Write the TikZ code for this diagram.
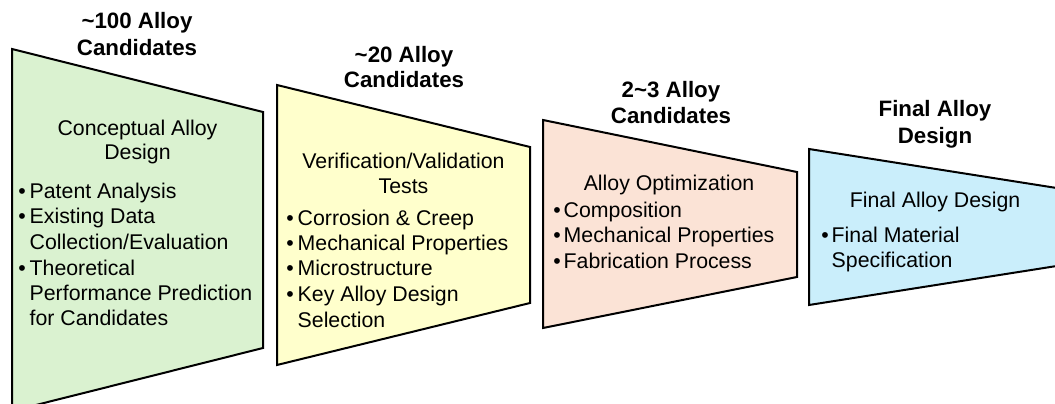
\documentclass[tikz,border=0pt]{standalone}
\usepackage{fontspec}
\setmainfont{Liberation Sans}
\definecolor{fillA}{HTML}{DAF2D0}
\definecolor{fillB}{HTML}{FFFFCC}
\definecolor{fillC}{HTML}{FBE3D6}
\definecolor{fillD}{HTML}{CAEEFB}
\begin{document}
\begin{tikzpicture}[x=1pt,y=-1pt,
  stage/.style={draw=black,line width=2pt,line join=miter},
  ttl/.style={font=\fontsize{22.3}{27}\selectfont\bfseries,anchor=base,inner sep=0},
  hd/.style={font=\fontsize{21.3}{25}\selectfont,anchor=base,inner sep=0},
  itm/.style={font=\fontsize{21.3}{25}\selectfont,anchor=base west,inner sep=0},
  bul/.style={font=\fontsize{21.3}{25}\selectfont,anchor=base,inner sep=0}]
\useasboundingbox (0,0) rectangle (1055,404);
\begin{scope}
\clip (0,0) rectangle (1055,404);
% stage shapes
\draw[stage,fill=fillA] (12,49) coordinate (s1tl) -- (263,112) coordinate (s1tr) -- (263,348) coordinate (s1br) -- (12,411) coordinate (s1bl) -- cycle;
\draw[stage,fill=fillB] (277,85) coordinate (s2tl) -- (530,147) coordinate (s2tr) -- (530,303) coordinate (s2br) -- (277,365) coordinate (s2bl) -- cycle;
\draw[stage,fill=fillC] (543,120) coordinate (s3tl) -- (797,172) coordinate (s3tr) -- (797,277) coordinate (s3br) -- (543,328) coordinate (s3bl) -- cycle;
\draw[stage,fill=fillD] (809,149) coordinate (s4tl) -- (1063,189) coordinate (s4tr) -- (1063,265) coordinate (s4br) -- (809,305) coordinate (s4bl) -- cycle;
\end{scope}
% stage 1
\node[ttl] (t1a) at (137,29) {\textasciitilde 100 Alloy};
\node[ttl] (t1b) at (137,56) {Candidates};
\node[hd] (h1a) at (137.5,135) {Conceptual Alloy};
\node[hd] (h1b) at (137.5,159) {Design};
\node[bul] (b1a) at (22,198) {\textbullet};
\node[itm] (i1a) at (29.5,198) {Patent Analysis};
\node[bul] (b1b) at (22,223) {\textbullet};
\node[itm] (i1b) at (29.5,223) {Existing Data};
\node[itm] (i1c) at (29.5,249) {Collection/Evaluation};
\node[bul] (b1d) at (22,275) {\textbullet};
\node[itm] (i1d) at (29.5,275) {Theoretical};
\node[itm] (i1e) at (29.5,300) {Performance Prediction};
\node[itm] (i1f) at (29.5,325) {for Candidates};
% stage 2
\node[ttl] (t2a) at (404,63) {\textasciitilde 20 Alloy};
\node[ttl] (t2b) at (404,88) {Candidates};
\node[hd] (h2a) at (403.5,168) {Verification/Validation};
\node[hd] (h2b) at (403.5,193) {Tests};
\node[bul] (b2a) at (290,225) {\textbullet};
\node[itm] (i2a) at (297.5,225) {Corrosion \& Creep};
\node[bul] (b2b) at (290,250) {\textbullet};
\node[itm] (i2b) at (297.5,250) {Mechanical Properties};
\node[bul] (b2c) at (290,275) {\textbullet};
\node[itm] (i2c) at (297.5,275) {Microstructure};
\node[bul] (b2d) at (290,301) {\textbullet};
\node[itm] (i2d) at (297.5,301) {Key Alloy Design};
\node[itm] (i2e) at (297.5,327) {Selection};
% stage 3
\node[ttl] (t3a) at (671,97) {2\textasciitilde 3 Alloy};
\node[ttl] (t3b) at (671,123) {Candidates};
\node[hd] (h3a) at (669,190) {Alloy Optimization};
\node[bul] (b3a) at (557,217) {\textbullet};
\node[itm] (i3a) at (563.5,217) {Composition};
\node[bul] (b3b) at (557,242) {\textbullet};
\node[itm] (i3b) at (563.5,242) {Mechanical Properties};
\node[bul] (b3c) at (557,268) {\textbullet};
\node[itm] (i3c) at (563.5,268) {Fabrication Process};
% stage 4
\node[ttl] (t4a) at (935,117) {Final Alloy};
\node[ttl] (t4b) at (935,143) {Design};
\node[hd] (h4a) at (935,207) {Final Alloy Design};
\node[bul] (b4a) at (825,242) {\textbullet};
\node[itm] (i4a) at (831.5,242) {Final Material};
\node[itm] (i4b) at (831.5,267) {Specification};
\end{tikzpicture}
\end{document}
